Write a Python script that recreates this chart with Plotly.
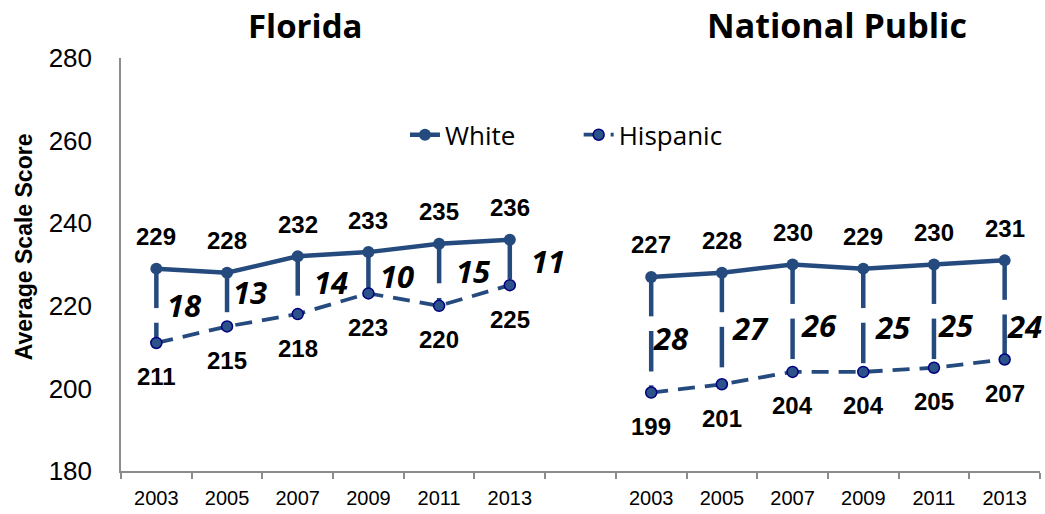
import plotly.graph_objects as go

# ---------------- data ----------------
years = ["2003", "2005", "2007", "2009", "2011", "2013"]
panel_titles = ["Florida", "National Public"]
fl_white = [229, 228, 232, 233, 235, 236]
fl_hisp = [211, 215, 218, 223, 220, 225]
fl_gap = [18, 13, 14, 10, 15, 11]
nat_white = [227, 228, 230, 229, 230, 231]
nat_hisp = [199, 201, 204, 204, 205, 207]
nat_gap = [28, 27, 26, 25, 25, 24]
y_ticks = [180, 200, 220, 240, 260, 280]

# ---------------- style ----------------
LINE = "#254A7E"
HMARK = "#2B5389"
HEDGE = "#000080"
AXIS = "#8C8C8C"
NUMFONT = "Liberation Sans"
CALFONT = "Open Sans"

# x positions: 6 Florida categories, a blank slot, 6 national categories
fl_x = list(range(6))
nat_x = list(range(7, 13))
x_all = fl_x + [6] + nat_x
white_all = fl_white + [None] + nat_white
hisp_all = fl_hisp + [None] + nat_hisp

# breaks in the drop lines (score units below the White point)
breaks = [(9.55, 13.1), (22.9, 26.25)]

drop_x, drop_y = [], []
for xs, ws, hs in ((fl_x, fl_white, fl_hisp), (nat_x, nat_white, nat_hisp)):
    for xi, w, h in zip(xs, ws, hs):
        top = w
        for b0, b1 in breaks:
            seg_end = max(h, w - b0)
            if top > h:
                drop_x += [xi, xi, None]
                drop_y += [top, seg_end, None]
            top = w - b1
        if top > h:
            drop_x += [xi, xi, None]
            drop_y += [top, h, None]

fig = go.Figure()
fig.add_trace(go.Scatter(x=drop_x, y=drop_y, mode="lines",
                         line=dict(color=LINE, width=4.5),
                         showlegend=False, hoverinfo="skip"))
fig.add_trace(go.Scatter(x=x_all, y=hisp_all, mode="lines+markers", name="Hispanic",
                         line=dict(color=LINE, width=3.8, dash="17px,10px"),
                         marker=dict(size=11, color=HMARK, line=dict(color=HEDGE, width=1.5)),
                         connectgaps=False, legend="legend2"))
fig.add_trace(go.Scatter(x=x_all, y=white_all, mode="lines+markers", name="White",
                         line=dict(color=LINE, width=4.5),
                         marker=dict(size=12, color=LINE),
                         connectgaps=False, legend="legend"))

ann = []
for xs, ws in ((fl_x, fl_white), (nat_x, nat_white)):
    for xi, v in zip(xs, ws):
        ann.append(dict(x=xi, y=v, text=str(v), showarrow=False, yshift=32,
                        xanchor="center", yanchor="middle",
                        font=dict(family=NUMFONT, size=24, color="black", weight="bold")))
for xs, hs in ((fl_x, fl_hisp), (nat_x, nat_hisp)):
    for xi, v in zip(xs, hs):
        ann.append(dict(x=xi, y=v, text=str(v), showarrow=False, yshift=-34,
                        xanchor="center", yanchor="middle",
                        font=dict(family=NUMFONT, size=24, color="black", weight="bold")))

# gap label offsets (px) relative to the White point
fl_gap_dx = [28, 23, 33, 29, 34, 38]
fl_gap_dy = [-36, -19, -26, -24, -27, -21]
nat_gap_dx = [20, 29, 26, 30, 22, 20]
nat_gap_dy = [-61, -55, -60, -58, -60, -66]
for xs, ws, gs, dxs, dys in ((fl_x, fl_white, fl_gap, fl_gap_dx, fl_gap_dy),
                             (nat_x, nat_white, nat_gap, nat_gap_dx, nat_gap_dy)):
    for xi, w, g, dx, dy in zip(xs, ws, gs, dxs, dys):
        ann.append(dict(x=xi, y=w, text=f"<i>{g}</i>", showarrow=False,
                        xshift=dx, yshift=dy, xanchor="center", yanchor="middle",
                        font=dict(family=CALFONT, size=31, color="black", weight="bold")))

# panel titles
for t, px, fs in zip(panel_titles, [0.2008, 0.7786], [33, 34]):
    ann.append(dict(x=px, y=1.0788, xref="paper", yref="paper", text=t, showarrow=False,
                    xanchor="center", yanchor="middle",
                    font=dict(family=CALFONT, size=fs, color="black", weight="bold")))

# y-axis title
ann.append(dict(x=-0.1055, y=0.5418, xref="paper", yref="paper",
                text="Average Scale Score", textangle=-90, showarrow=False,
                xanchor="center", yanchor="middle",
                font=dict(family=NUMFONT, size=23, color="black", weight="bold")))

fig.update_layout(
    width=1045, height=514,
    margin=dict(l=121, r=5, t=58, b=37),
    plot_bgcolor="white", paper_bgcolor="white",
    annotations=ann,
    legend=dict(x=0.309, y=0.814, xanchor="left", yanchor="middle",
                orientation="h", bgcolor="rgba(0,0,0,0)",
                font=dict(family=CALFONT, size=26, color="black")),
    legend2=dict(x=0.498, y=0.814, xanchor="left", yanchor="middle",
                 orientation="h", bgcolor="rgba(0,0,0,0)",
                 font=dict(family=CALFONT, size=26, color="black")),
    xaxis=dict(range=[-0.5, 12.5], tickmode="array", tickvals=fl_x + nat_x,
               ticktext=years + years, ticks="", showline=True, linecolor=AXIS,
               linewidth=1.5, showgrid=False, zeroline=False,
               tickfont=dict(family=NUMFONT, size=20, color="black"),
               ticklabelstandoff=8,
               minor=dict(tickmode="array", tickvals=[i - 0.5 for i in range(14)],
                          ticks="outside", ticklen=6, tickcolor=AXIS, tickwidth=1.5,
                          showgrid=False)),
    yaxis=dict(range=[180, 280], tickmode="array", tickvals=y_ticks, ticks="",
               showline=True, linecolor=AXIS, linewidth=1.5, showgrid=False,
               zeroline=False, ticklabelstandoff=22,
               tickfont=dict(family=NUMFONT, size=26, color="black")),
)

fig.write_html("out.html")
